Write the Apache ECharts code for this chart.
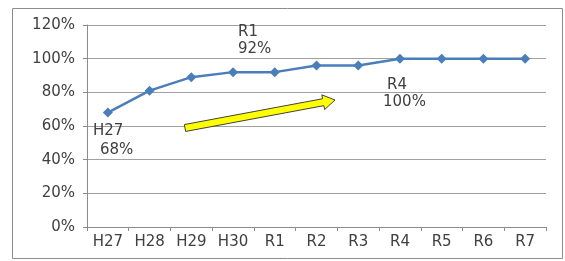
<!DOCTYPE html>
<html>
<head>
<meta charset="utf-8">
<script src="https://cdn.jsdelivr.net/npm/echarts@6/dist/echarts.min.js"></script>
<style>
  html, body { margin: 0; padding: 0; background: #fff; }
  #main { width: 565px; height: 261px; }
</style>
</head>
<body>
<div id="main"></div>
<script>
// 年度
var categories = ['H27', 'H28', 'H29', 'H30', 'R1', 'R2', 'R3', 'R4', 'R5', 'R6', 'R7'];
// 割合 (%)
var rates = [68, 81, 89, 92, 92, 96, 96, 100, 100, 100, 100];
var yTicks = [0, 20, 40, 60, 80, 100, 120];

var font = 'DejaVu Sans';
var textColor = '#404040';

// yellow arrow (decoration)
var tail = [185, 128], tip = [335, 100];
var dx = tip[0] - tail[0], dy = tip[1] - tail[1];
var len = Math.sqrt(dx * dx + dy * dy);
var ux = dx / len, uy = dy / len, nx = -uy, ny = ux;
var neck = [tip[0] - ux * 12, tip[1] - uy * 12];
function pt(p, k) { return [p[0] + nx * k, p[1] + ny * k]; }
var arrowPts = [pt(tail, -3.5), pt(neck, -3.5), pt(neck, -7.5), tip, pt(neck, 7.5), pt(neck, 3.5), pt(tail, 3.5)];

function txt(x, y, s) {
  return {
    type: 'text', left: x, top: y - 8, z: 10,
    style: { text: s, font: '15px ' + font, fill: textColor }
  };
}

var chart = echarts.init(document.getElementById('main'));
chart.setOption({
  animation: false,
  grid: { left: 87, right: 19, top: 25, bottom: 34 },
  xAxis: {
    type: 'category',
    data: categories,
    boundaryGap: true,
    axisLine: { lineStyle: { color: '#8c8c8c', width: 1 } },
    axisTick: { show: true, length: 4, lineStyle: { color: '#8c8c8c' } },
    axisLabel: { color: textColor, fontFamily: font, fontSize: 15, margin: 8 }
  },
  yAxis: {
    type: 'value',
    min: 0, max: 120, interval: 20,
    axisLine: { show: true, lineStyle: { color: '#8c8c8c' } },
    axisTick: { show: true, length: 4, inside: false, lineStyle: { color: '#8c8c8c' } },
    axisLabel: { color: textColor, fontFamily: font, fontSize: 15, margin: 12,
      formatter: function (v) { return yTicks.indexOf(v) >= 0 ? v + '%' : ''; } },
    splitLine: { lineStyle: { color: '#a0a0a0', width: 1 } }
  },
  series: [{
    type: 'line',
    data: rates,
    symbol: 'diamond',
    symbolSize: 10,
    lineStyle: { color: '#4a7ebb', width: 2.5 },
    itemStyle: { color: '#4a7ebb' }
  }],
  graphic: [
    { type: 'rect', shape: { x: 12.5, y: 8.5, width: 550, height: 250 },
      style: { fill: 'none', stroke: '#8c8c8c', lineWidth: 1 }, z: 0 },
    { type: 'polygon', shape: { points: arrowPts }, z: 5,
      style: { fill: '#ffff00', stroke: '#404040', lineWidth: 1 } },
    txt(238, 33, 'R1'),
    txt(238, 50, '92%'),
    txt(387, 86, 'R4'),
    txt(383, 103, '100%'),
    txt(93, 132, 'H27'),
    txt(100, 151, '68%')
  ]
});
</script>
</body>
</html>
